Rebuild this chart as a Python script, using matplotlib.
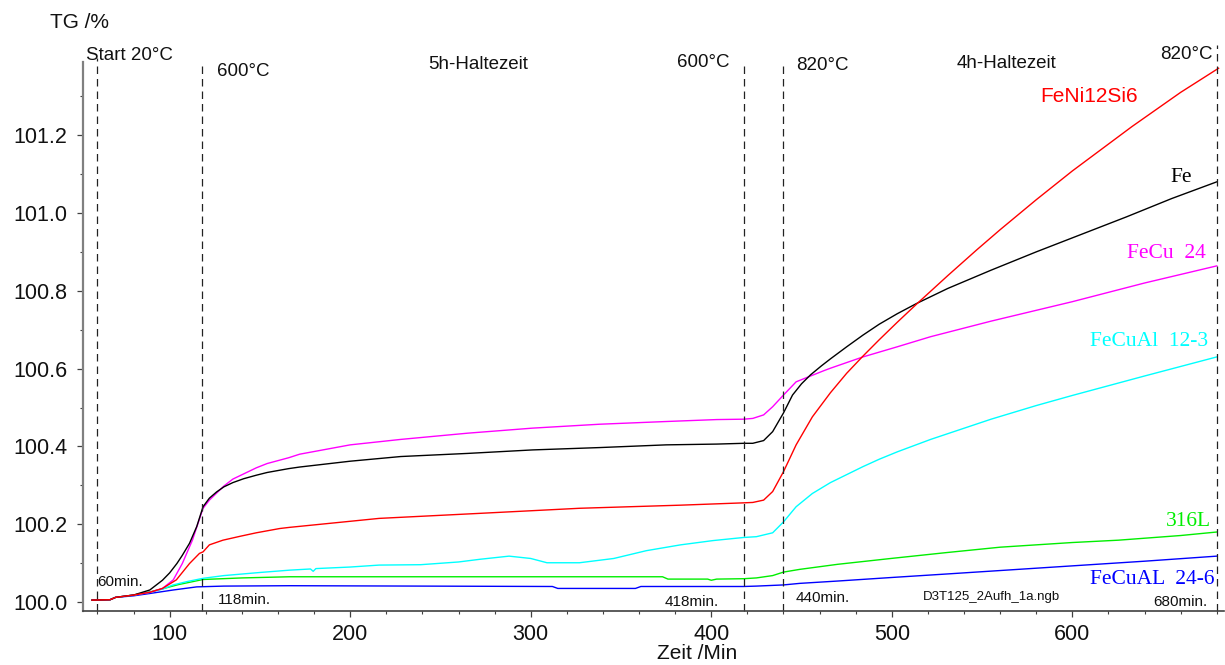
import matplotlib
matplotlib.use("Agg")
import matplotlib.pyplot as plt
import numpy as np

# ---------------- data ----------------
t_fe = [57, 67, 70, 80, 89, 96, 100, 104, 107, 111, 115, 118.5, 122, 126, 130, 135, 141, 148, 154,
        166, 172, 200, 228, 265, 301, 338, 375, 403, 418, 423, 429, 434, 440, 445, 450, 455, 461,
        466, 475, 484, 493, 503, 514, 531, 555, 580, 600, 630, 655, 680]
tg_fe = [100.005, 100.006, 100.012, 100.018, 100.031, 100.056, 100.075, 100.099, 100.12, 100.151,
         100.194, 100.245, 100.267, 100.283, 100.296, 100.307, 100.317, 100.326, 100.333, 100.343,
         100.347, 100.362, 100.374, 100.382, 100.391, 100.397, 100.404, 100.406, 100.408, 100.408,
         100.415, 100.438, 100.486, 100.532, 100.561, 100.584, 100.607, 100.625, 100.656, 100.686,
         100.714, 100.741, 100.768, 100.806, 100.853, 100.9, 100.936, 100.99, 101.037, 101.08]

t_cu = [57, 67, 70, 80, 89, 96, 102, 107, 112.6, 118.5, 122, 126, 130, 135, 148, 154, 166, 172,
        200, 228, 265, 301, 338, 375, 403, 418, 423, 429, 434, 440, 447, 455, 462, 466, 484, 503,
        521.5, 555, 600, 640, 680]
tg_cu = [100.005, 100.006, 100.012, 100.018, 100.025, 100.035, 100.057, 100.099, 100.159, 100.241,
         100.262, 100.28, 100.298, 100.316, 100.345, 100.356, 100.371, 100.38, 100.404, 100.418,
         100.434, 100.447, 100.457, 100.464, 100.469, 100.470, 100.472, 100.481, 100.502, 100.532,
         100.566, 100.581, 100.594, 100.601, 100.63, 100.656, 100.682, 100.722, 100.772, 100.82,
         100.864]

t_ni = [57, 67, 70, 80, 89, 96, 103.7, 111, 116.5, 118.5, 122, 129.5, 139, 148, 161, 166.5, 216,
        272, 327, 383, 418, 423, 429, 434, 440, 447, 456, 466, 475, 484, 493, 503, 514, 531, 547,
        560, 580, 600, 633, 660, 681]
tg_ni = [100.005, 100.006, 100.012, 100.018, 100.025, 100.035, 100.057, 100.099, 100.125, 100.129,
         100.147, 100.159, 100.169, 100.178, 100.189, 100.192, 100.215, 100.228, 100.241, 100.249,
         100.255, 100.256, 100.262, 100.284, 100.335, 100.404, 100.476, 100.538, 100.588, 100.632,
         100.674, 100.719, 100.767, 100.839, 100.905, 100.957, 101.034, 101.108, 101.222, 101.31,
         101.372]

t_al12 = [57, 67, 70, 80, 89, 96, 101.9, 110, 118.5, 130, 150, 166.5, 178, 179.5, 181, 200, 216,
          239, 260, 272, 288, 300, 309, 327, 346, 364, 383, 401, 418, 425, 434, 440, 447, 456,
          466, 484, 493, 503, 521.5, 555, 580, 600, 640, 680]
tg_al12 = [100.005, 100.006, 100.012, 100.018, 100.025, 100.033, 100.044, 100.053, 100.061,
           100.068, 100.076, 100.082, 100.085, 100.079, 100.086, 100.09, 100.095, 100.096, 100.103,
           100.11, 100.118, 100.112, 100.101, 100.101, 100.112, 100.132, 100.147, 100.158, 100.166,
           100.168, 100.178, 100.206, 100.245, 100.279, 100.307, 100.348, 100.367, 100.386,
           100.418, 100.47, 100.505, 100.531, 100.581, 100.63]

t_316 = [57, 67, 70, 80, 89, 96, 105, 118.5, 140, 166.5, 373, 376, 398, 400, 403, 418, 425, 434,
         440, 449, 470, 499.5, 530, 560, 600, 625.5, 660, 680]
tg_316 = [100.005, 100.006, 100.012, 100.018, 100.026, 100.034, 100.045, 100.058, 100.062,
          100.065, 100.065, 100.059, 100.059, 100.056, 100.059, 100.060, 100.062, 100.068, 100.077,
          100.084, 100.097, 100.112, 100.127, 100.141, 100.153, 100.159, 100.171, 100.18]

t_al24 = [57, 67, 70, 80, 89, 102, 115, 130, 166.5, 312, 315, 358, 361, 418, 425, 440, 449, 470,
          499.5, 530, 560, 600, 640, 680]
tg_al24 = [100.005, 100.006, 100.012, 100.016, 100.022, 100.031, 100.039, 100.041, 100.042,
           100.040, 100.035, 100.035, 100.040, 100.040, 100.041, 100.044, 100.048, 100.054,
           100.063, 100.072, 100.081, 100.093, 100.105, 100.118]

series_names = ["FeCuAL  24-6", "316L", "FeCuAl  12-3", "FeCu  24", "Fe", "FeNi12Si6"]
series_colors = ["#0000ff", "#00ee00", "#00ffff", "#ff00ff", "#000000", "#ff0000"]

event_times = [60, 118, 418, 440, 680]
event_labels = ["60min.", "118min.", "418min.", "440min.", "680min."]

y_ticks = [100.0, 100.2, 100.4, 100.6, 100.8, 101.0, 101.2]
x_ticks = [100, 200, 300, 400, 500, 600]

# ---------------- figure ----------------
W, H = 1225, 665
fig = plt.figure(figsize=(W / 100, H / 100), dpi=100)
ax = fig.add_axes([83 / W, 1 - 611 / H, (1224 - 83) / W, (611 - 62) / H])
ax.set_xlim(52, 684)
ax.set_ylim(99.977, 101.388)

sans = "Liberation Sans"
serif = "Liberation Serif"


def P(x, y):
    return x / W, 1 - y / H


curves = [(t_al24, tg_al24), (t_316, tg_316), (t_al12, tg_al12),
          (t_cu, tg_cu), (t_fe, tg_fe), (t_ni, tg_ni)]
for (tx, ty), c in zip(curves, series_colors):
    ax.plot(tx, ty, color=c, lw=1.0, solid_joinstyle="round")

for i, t in enumerate(event_times):
    top = 1.031 if i == len(event_times) - 1 else (1.007 if i == 0 else 1.0)
    ax.plot([t, t], [0, top], transform=ax.get_xaxis_transform(), color="#222222",
            lw=0.9, ls=(0, (6, 4)), clip_on=False)

# spines and ticks
ax.spines["top"].set_visible(False)
ax.spines["right"].set_visible(False)
ax.spines["left"].set_color("#808080")
ax.spines["left"].set_linewidth(1.6)
ax.spines["bottom"].set_color("#404040")
ax.spines["bottom"].set_linewidth(1.2)

ax.set_yticks(y_ticks)
ax.set_yticklabels([f"{v:.1f}" for v in y_ticks])
ax.set_yticks(np.arange(100.1, 101.35, 0.2), minor=True)
ax.set_xticks(x_ticks)
ax.set_xticklabels([str(v) for v in x_ticks])
ax.set_xticks([v for v in range(60, 681, 20) if v % 100 != 0], minor=True)

ax.tick_params(axis="both", which="major", direction="out", length=4, width=0.9,
               color="#404040", labelsize=15.5, labelcolor="#111111")
ax.tick_params(axis="both", which="minor", direction="out", length=2.5, width=0.8,
               color="#404040")
ax.tick_params(axis="y", which="major", pad=7)
ax.tick_params(axis="x", which="major", pad=5)
for lab in ax.get_xticklabels() + ax.get_yticklabels():
    lab.set_fontfamily(sans)

# axis titles
fig.text(*P(50, 28), "TG /%", fontsize=15, family=sans, color="#111111", va="baseline")
fig.text(*P(657, 659), "Zeit /Min", fontsize=15, family=sans, color="#111111", va="baseline")

# temperature / phase annotations
top_texts = [
    (86, 60, "Start 20°C", "left"),
    (217, 76, "600°C", "left"),
    (428, 69, "5h-Haltezeit", "left"),
    (730, 67, "600°C", "right"),
    (796, 70.5, "820°C", "left"),
    (957, 68, "4h-Haltezeit", "left"),
    (1160, 59, "820°C", "left"),
]
for x, y, s, ha in top_texts:
    fig.text(*P(x, y), s, fontsize=13.5, family=sans, color="#111111", ha=ha, va="baseline")

# event time annotations
event_pos = [(97, 586.5), (218, 604), (665, 606), (796, 601.5), (1153, 606)]
for (x, y), s in zip(event_pos, event_labels):
    fig.text(*P(x, y), s, fontsize=11, family=sans, color="#111111", va="baseline")

fig.text(*P(923, 600), "D3T125_2Aufh_1a.ngb", fontsize=9.5, family=sans, color="#111111",
         va="baseline")

# series labels
fig.text(*P(1040, 101.5), series_names[5], fontsize=15, family=sans, color=series_colors[5],
         va="baseline")
label_pos = {4: (1192, 182.5), 3: (1206, 258), 2: (1208, 346.5), 1: (1211, 526), 0: (1215, 584)}
for i, (x, y) in label_pos.items():
    fig.text(*P(x, y), series_names[i], fontsize=15.5, family=serif, color=series_colors[i],
             ha="right", va="baseline")

fig.savefig("out.png", dpi=100)
